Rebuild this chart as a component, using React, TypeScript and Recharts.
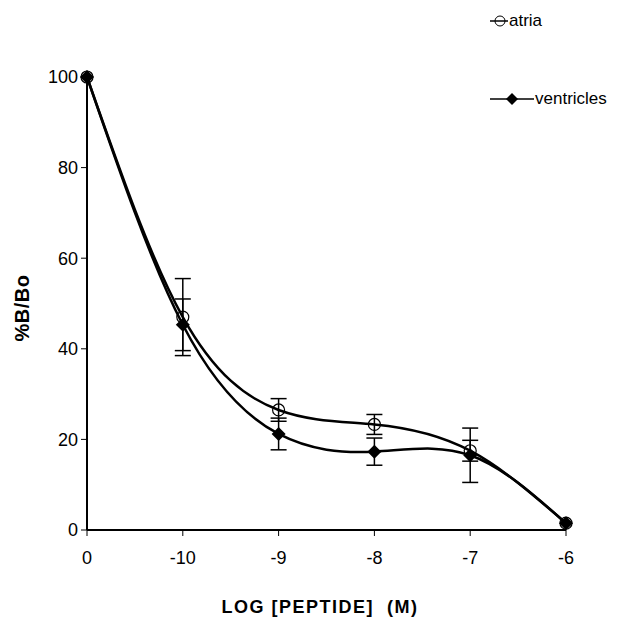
import React from 'react'
import { LineChart, Line, XAxis, YAxis, ErrorBar } from 'recharts'

const doses = ['0', '-10', '-9', '-8', '-7', '-6']
const atria = [100, 47, 26.5, 23.3, 17.5, 1.5]
const atriaErr = [0, 8.5, 2.5, 2.2, 2.3, 0]
const ventricles = [100, 45.3, 21.2, 17.3, 16.5, 1.5]
const ventriclesErr = [0, 5.7, 3.5, 3, 6, 0]
const yTicks = [0, 20, 40, 60, 80, 100]

const data = doses.map((d, i) => ({
  dose: d,
  atria: atria[i],
  atriaErr: atriaErr[i],
  ventricles: ventricles[i],
  ventriclesErr: ventriclesErr[i],
}))

const FONT = 'Liberation Sans, Arial, sans-serif'

function CircleDot(props: any) {
  const { cx, cy } = props
  if (cx == null || cy == null) return null
  return <circle cx={cx} cy={cy} r={6} fill="none" stroke="#000" strokeWidth={1.2} />
}

function DiamondDot(props: any) {
  const { cx, cy } = props
  if (cx == null || cy == null) return null
  const s = 7
  return <path d={`M${cx},${cy - s} L${cx + s},${cy} L${cx},${cy + s} L${cx - s},${cy} Z`} fill="#000" />
}

// legend drawn outside the chart so it doesn't steal plot width
function LegendBox() {
  return (
    <div style={{ position: 'absolute', left: 490, top: 11, fontFamily: FONT, fontSize: 17 }}>
      <div style={{ display: 'flex', alignItems: 'center', height: 20 }}>
        <svg width={18} height={14}>
          <line x1={0} y1={7} x2={18} y2={7} stroke="#000" strokeWidth={1.5} />
          <circle cx={10} cy={7} r={5} fill="none" stroke="#000" strokeWidth={1} />
        </svg>
        <span style={{ marginLeft: 1 }}>atria</span>
      </div>
      <div style={{ height: 58 }} />
      <div style={{ display: 'flex', alignItems: 'center', height: 20 }}>
        <svg width={44} height={14}>
          <line x1={0} y1={7} x2={44} y2={7} stroke="#000" strokeWidth={1.5} />
          <path d="M22,1 L28,7 L22,13 L16,7 Z" fill="#000" />
        </svg>
        <span style={{ marginLeft: 1 }}>ventricles</span>
      </div>
    </div>
  )
}

export default function App() {
  return (
    <div style={{ position: 'absolute', left: 0, top: 0, width: 618, height: 620, background: '#fff' }}>
      <LineChart width={618} height={620} data={data} margin={{ top: 77, right: 52, left: 0, bottom: 60 }}>
        <XAxis
          dataKey="dose"
          stroke="#000"
          strokeWidth={2}
          tickLine={{ stroke: '#000', strokeWidth: 1 }}
          tick={{ fill: '#000', fontSize: 18, fontFamily: FONT }}
          tickSize={6}
          tickMargin={15}
          height={30}
          label={{
            content: (p: any) => {
              const vb = p.viewBox
              return (
                <text x={320} y={vb.y + 83} textAnchor="middle" fontFamily={FONT} fontWeight="bold" fontSize={18} letterSpacing={1.5}>
                  LOG [PEPTIDE]{'\u00a0\u00a0'}(M)
                </text>
              )
            },
          }}
        />
        <YAxis
          type="number"
          domain={[0, 100]}
          ticks={yTicks}
          width={87}
          stroke="#000"
          strokeWidth={2}
          tickLine={{ stroke: '#000', strokeWidth: 1 }}
          tick={{ fill: '#000', fontSize: 18, fontFamily: FONT }}
          tickSize={6}
          tickMargin={3}
          label={{
            content: () => {
              const x = 22
              const y = 308
              return (
                <text x={x} y={y} transform={`rotate(-90 ${x} ${y})`} textAnchor="middle" dominantBaseline="central" fontFamily={FONT} fontWeight="bold" fontSize={20} letterSpacing={0.5}>
                  %B/Bo
                </text>
              )
            },
          }}
        />
        <Line
          type="natural"
          dataKey="ventricles"
          stroke="#000"
          strokeWidth={2.5}
          dot={<DiamondDot />}
          activeDot={false}
          isAnimationActive={false}
        >
          <ErrorBar dataKey="ventriclesErr" width={8} stroke="#000" strokeWidth={1.5} />
        </Line>
        <Line
          type="natural"
          dataKey="atria"
          stroke="#000"
          strokeWidth={2.5}
          dot={<CircleDot />}
          activeDot={false}
          isAnimationActive={false}
        >
          <ErrorBar dataKey="atriaErr" width={8} stroke="#000" strokeWidth={1.5} />
        </Line>
      </LineChart>
      <LegendBox />
    </div>
  )
}
